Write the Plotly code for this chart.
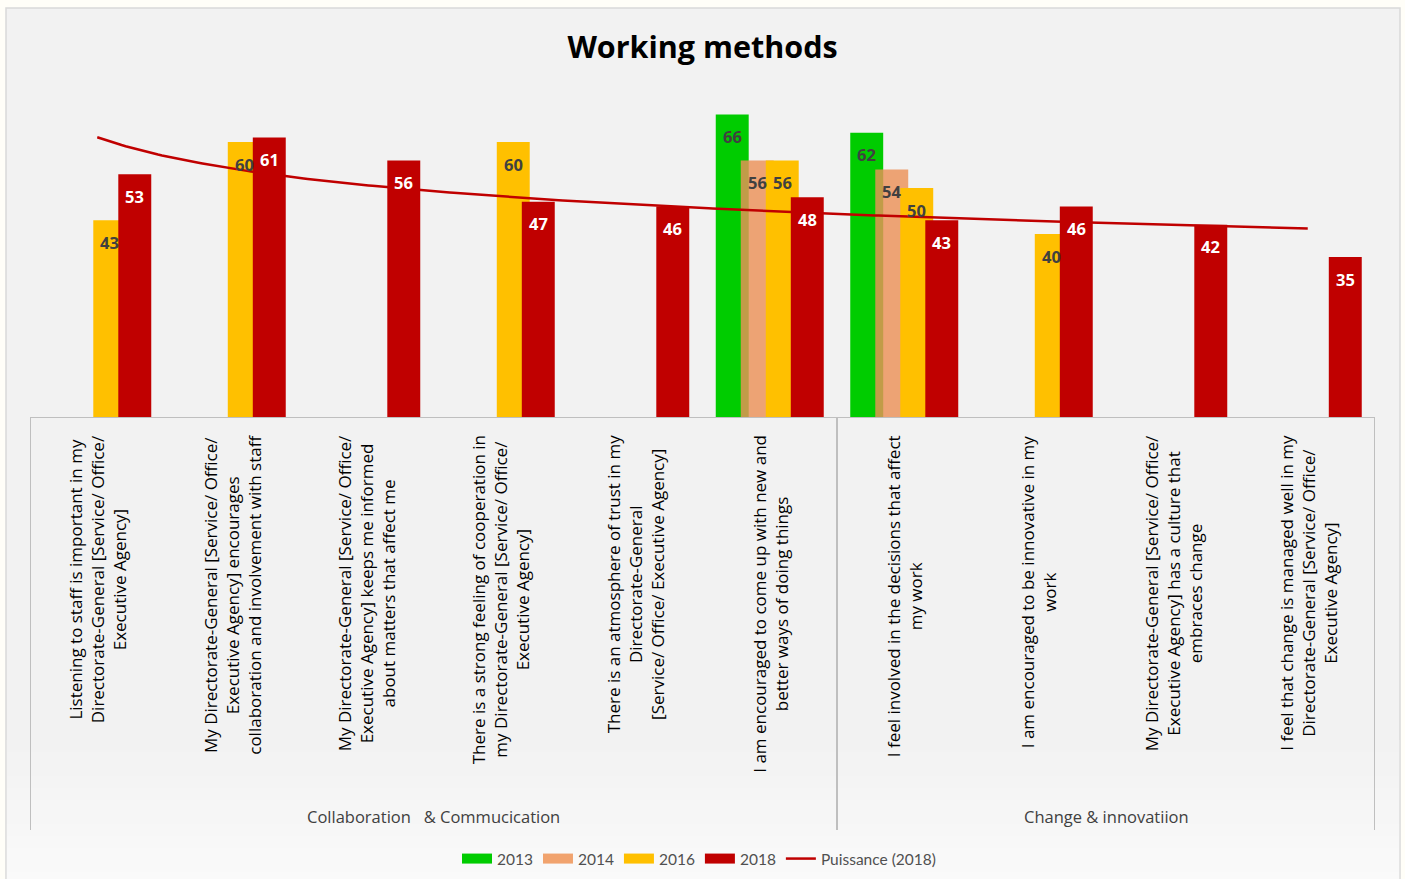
import numpy as np
import plotly.graph_objects as go

# ---------------- data ----------------
categories = [
    "Listening to staff is important in my<br>Directorate-General [Service/ Office/<br>Executive Agency]",
    "My Directorate-General [Service/ Office/<br>Executive Agency] encourages<br>collaboration and involvement with staff",
    "My Directorate-General [Service/ Office/<br>Executive Agency] keeps me informed<br>about matters that affect me",
    "There is a strong feeling of cooperation in<br>my Directorate-General [Service/ Office/<br>Executive Agency]",
    "There is an atmosphere of trust in my<br>Directorate-General<br>[Service/ Office/ Executive Agency]",
    "I am encouraged to come up with new and<br>better ways of doing things",
    "I feel involved in the decisions that affect<br>my work",
    "I am encouraged to be innovative in my<br>work",
    "My Directorate-General [Service/ Office/<br>Executive Agency] has a culture that<br>embraces change",
    "I feel that change is managed well in my<br>Directorate-General [Service/ Office/<br>Executive Agency]",
]
groups = ["Collaboration   & Commucication", "Change & innovatiion"]
group_sizes = [6, 4]

years = ["2013", "2014", "2016", "2018"]
v2013 = [None, None, None, None, None, 66, 62, None, None, None]
v2014 = [None, None, None, None, None, 56, 54, None, None, None]
v2016 = [43, 60, None, 60, None, 56, 50, 40, None, None]
v2018 = [53, 61, 56, 47, 46, 48, 43, 46, 42, 35]
trend_name = "Puissance (2018)"

# ---------------- styles ----------------
colors = {"2013": "#00CC00", "2014": "rgba(236,145,88,0.82)", "2016": "#FFC000", "2018": "#C00000"}
legend_colors = {"2013": "#00CC00", "2014": "#F1A36E", "2016": "#FFC000", "2018": "#C00000"}
label_colors = {"2013": "#404040", "2014": "#404040", "2016": "#404040", "2018": "#FFFFFF"}
series = {"2013": v2013, "2014": v2014, "2016": v2016, "2018": v2018}

bar_w = 0.245
step = 0.186
centers = {y: (k - 1.5) * step for k, y in enumerate(years)}

W, H = 1405, 879
L, R, T, B = 30, 30, 96, 461
plot_h = H - T - B
plot_w = W - L - R
def py(p):  # pixel y -> paper y
    return (H - B - p) / plot_h
def px(p):  # pixel x -> paper x
    return (p - L) / plot_w

FONT = "'Open Sans', sans-serif"
LFONT = "Lato, sans-serif"

fig = go.Figure()
idx = list(range(len(categories)))

for y in years:
    fig.add_trace(go.Bar(
        x=idx, y=series[y], width=bar_w, offset=centers[y] - bar_w / 2,
        marker=dict(color=colors[y], line=dict(width=0)),
        name=y, showlegend=False, hoverinfo="y",
    ))

# power trendline for 2018 (Excel x = 1..n)
xe = np.arange(1, len(v2018) + 1, dtype=float)
b, lna = np.polyfit(np.log(xe), np.log(np.array(v2018, dtype=float)), 1)
xs = np.linspace(1, len(v2018), 300)
ys = np.exp(lna) * xs ** b
fig.add_trace(go.Scatter(x=xs - 1, y=ys, mode="lines", line=dict(color="#C00000", width=2.5),
                         name=trend_name, showlegend=False, hoverinfo="skip"))

# legend entries
for y in years:
    fig.add_trace(go.Scatter(x=[None], y=[None], mode="lines",
                             line=dict(color=legend_colors[y], width=11), name=y))
fig.add_trace(go.Scatter(x=[None], y=[None], mode="lines",
                         line=dict(color="#C00000", width=2.5), name=trend_name))

annotations = []
# value labels
for y in years:
    for i, v in enumerate(series[y]):
        if v is None:
            continue
        annotations.append(dict(
            x=i + centers[y], y=v, xref="x", yref="y", text=f"<b>{v}</b>",
            showarrow=False, yanchor="middle", xanchor="center", yshift=-22,
            font=dict(family=FONT, size=16.5, color=label_colors[y])))
# category labels
for i, c in enumerate(categories):
    annotations.append(dict(
        x=i, y=0, xref="x", yref="y", text=c, textangle=-90, showarrow=False,
        xanchor="center", yanchor="top", yshift=-15, align="center",
        font=dict(family=FONT, size=17, color="#000000")))
# group labels
start = 0
for g, n in zip(groups, group_sizes):
    annotations.append(dict(
        x=start - 0.5 + n / 2, y=py(817), xref="x", yref="paper", text=g, showarrow=False,
        xanchor="center", yanchor="middle",
        font=dict(family=FONT, size=16.5, color="#404040")))
    start += n

shapes = [
    # chart area background and border
    dict(type="rect", xref="paper", yref="paper", x0=px(6), x1=px(1400),
         y0=py(884), y1=py(8), fillcolor="#F2F2F2", line=dict(color="#D9D9D9", width=1.5), layer="below"),
]
# subtle lightening of the background towards the bottom
n_bands = 12
top_band, bot_band = 740, 884
for k in range(n_bands):
    y0p = top_band + (bot_band - top_band) * k / n_bands
    y1p = top_band + (bot_band - top_band) * (k + 1) / n_bands
    c = int(242 + (251 - 242) * (k + 0.5) / n_bands)
    shapes.append(dict(type="rect", xref="paper", yref="paper", x0=px(6.8), x1=px(1399.2),
                       y0=py(y1p), y1=py(y0p), fillcolor=f"rgb({c},{c},{c})",
                       line=dict(width=0), layer="below"))
# axis line
shapes.append(dict(type="line", xref="x", yref="y", x0=-0.5, x1=len(categories) - 0.5, y0=0, y1=0,
                   line=dict(color="#BFBFBF", width=2)))
bounds = [-0.5]
acc = -0.5
for n in group_sizes:
    acc += n
    bounds.append(acc)
for bx in bounds:
    shapes.append(dict(type="line", xref="x", yref="paper", x0=bx, x1=bx, y0=0, y1=py(830),
                       line=dict(color="#BFBFBF", width=2)))

fig.update_layout(
    width=W, height=H,
    margin=dict(l=L, r=R, t=T, b=B, autoexpand=False),
    paper_bgcolor="#FFFEF8", plot_bgcolor="rgba(0,0,0,0)",
    barmode="overlay",
    title=dict(text="<b>Working methods</b>", x=0.5, xanchor="center", y=1 - 47 / H, yanchor="middle",
               font=dict(family=FONT, size=30.5, color="#000000")),
    xaxis=dict(range=[-0.5, len(categories) - 0.5], showticklabels=False, showgrid=False,
               zeroline=False, showline=False, fixedrange=True),
    yaxis=dict(range=[0, plot_h / 4.6], showticklabels=False, showgrid=False, zeroline=False,
               showline=False, fixedrange=True),
    legend=dict(orientation="h", x=px(699), xanchor="center", y=py(859), yanchor="middle",
                font=dict(family=LFONT, size=15.5, color="#505050"), bgcolor="rgba(0,0,0,0)",
                itemwidth=30),
    annotations=annotations,
    shapes=shapes,
    showlegend=True,
)

fig.write_html("out.html")
